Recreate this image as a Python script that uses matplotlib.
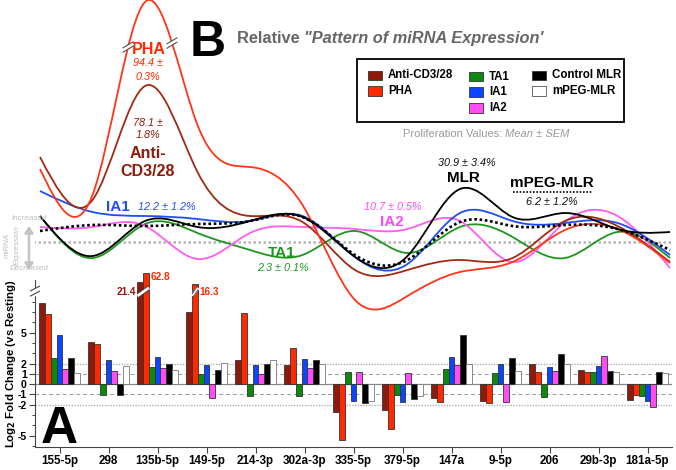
import numpy as np
import matplotlib
matplotlib.use('Agg')
import matplotlib.pyplot as plt
from matplotlib.path import Path
from matplotlib.patches import PathPatch, Rectangle, FancyArrowPatch
from matplotlib.lines import Line2D

plt.rcParams['font.family'] = ['Liberation Sans', 'DejaVu Sans']

mirnas = ['155-5p', '298', '135b-5p', '149-5p', '214-3p', '302a-3p', '335-5p',
          '379-5p', '147a', '9-5p', '206', '29b-3p', '181a-5p']
groups = ['Anti-CD3/28', 'PHA', 'TA1', 'IA1', 'IA2', 'Control MLR', 'mPEG-MLR']
colors = ['#8e1a0b', '#ff2a00', '#0b8a0b', '#0a45ff', '#ff4cf5', '#000000', '#ffffff']
curve_colors = ['#a02a14', '#ff3418', '#1e961e', '#1f4ef5', '#ff5cf0', '#000000', '#000000']

# panel A: log2 fold change vs resting
anti_cd3 = [7.9, 4.1, 21.4, 7.0, 2.35, 1.85, -2.7, -2.55, -1.3, -1.6, 1.95, 1.4, -1.55]
pha = [6.8, 3.9, 62.8, 16.3, 6.9, 3.5, -5.45, -4.4, -1.75, -1.85, 1.15, 1.15, -1.05]
ta1 = [2.5, -1.1, 1.65, 1.0, -1.2, -1.2, 1.15, -1.1, 1.5, 1.05, -1.25, 1.2, -1.15]
ia1 = [4.8, 2.3, 2.6, 1.9, 1.85, 2.45, -1.65, -1.75, 2.65, 1.95, 1.7, 1.75, -1.6]
ia2 = [1.5, 1.25, 1.6, -1.3, 0.95, 1.6, 1.15, 1.05, 1.85, -1.75, 1.25, 2.7, -2.2]
mlr = [2.5, -1.1, 2.0, 1.4, 2.0, 2.3, -1.85, -1.45, 4.8, 2.5, 2.9, 1.3, 1.15]
mpeg = [1.1, 1.8, 1.4, 2.05, 2.3, 1.95, -1.6, -1.15, 1.95, 1.25, 1.95, 1.15, 1.05]
bars = [anti_cd3, pha, ta1, ia1, ia2, mlr, mpeg]

# panel B: relative pattern (smoothed curves), arbitrary units
pat_anti = [8.5, 4.2, 15.6, 7.0, 2.6, 2.0, -2.8, -2.8, -1.8, -1.6, 2.1, 1.6, -2.0]
pat_pha = [7.3, 4.7, 24.0, 11.7, 7.5, 3.7, -5.8, -5.4, -3.0, -2.0, 1.2, 1.3, -2.1]
pat_ta1 = [2.6, -1.6, 1.8, 0.9, -0.8, -1.3, 1.1, -1.1, 1.5, 0.5, -1.6, 1.0, -1.6]
pat_ia1 = [5.1, 3.0, 2.6, 2.3, 2.1, 2.6, -1.5, -2.2, 2.9, 2.1, 1.9, 1.9, -1.3]
pat_ia2 = [1.5, 1.5, 1.6, -1.7, 0.9, 1.5, 1.3, 1.3, 2.1, -2.0, 2.0, 2.6, -2.6]
pat_mlr = [2.6, -1.4, 2.1, 1.5, 2.1, 2.5, -1.5, -1.4, 5.3, 2.5, 2.9, 1.3, 1.0]
pat_mpeg = [1.1, 1.7, 1.6, 1.8, 2.1, 2.5, -1.3, -1.8, 2.0, 1.6, 1.7, 1.3, -0.8]
patterns = [pat_anti, pat_pha, pat_ta1, pat_ia1, pat_ia2, pat_mlr, pat_mpeg]

W, H = 676, 470


def P(x, y):
    # pixel position -> figure fraction
    return x / W, 1 - y / H


def shown(v):
    # bars above the axis break are squeezed
    return 9.4 + 0.022 * v if v > 10 else v


def spline_patch(ax, xs, ys, **kw):
    # natural cubic spline through the points, drawn as bezier segments
    x = np.asarray(xs, float)
    y = np.asarray(ys, float)
    n = len(x)
    h = np.diff(x)
    A = np.zeros((n, n))
    r = np.zeros(n)
    A[0, 0] = A[-1, -1] = 1
    for i in range(1, n - 1):
        A[i, i - 1] = h[i - 1]
        A[i, i] = 2 * (h[i - 1] + h[i])
        A[i, i + 1] = h[i]
        r[i] = 6 * ((y[i + 1] - y[i]) / h[i] - (y[i] - y[i - 1]) / h[i - 1])
    m = np.linalg.solve(A, r)
    verts = [(x[0], y[0])]
    codes = [Path.MOVETO]
    for i in range(n - 1):
        s = (y[i + 1] - y[i]) / h[i]
        d0 = s - h[i] * (2 * m[i] + m[i + 1]) / 6
        d1 = s + h[i] * (m[i] + 2 * m[i + 1]) / 6
        verts += [(x[i] + h[i] / 3, y[i] + d0 * h[i] / 3),
                  (x[i + 1] - h[i] / 3, y[i + 1] - d1 * h[i] / 3),
                  (x[i + 1], y[i + 1])]
        codes += [Path.CURVE4] * 3
    ax.add_patch(PathPatch(Path(verts, codes), fill=False, clip_on=False, **kw))


fig = plt.figure(figsize=(6.76, 4.70), dpi=100)

# ---------------- panel A (bars) ----------------
ax = fig.add_axes([35 / W, 23 / H, 637 / W, 167 / H])
n = len(mirnas)
xs = np.arange(n)
w = 0.117
for j, vals in enumerate(bars):
    ec = '#777777' if colors[j] == '#ffffff' else '#333333'
    ax.bar(xs + (j - 3) * w, [shown(v) for v in vals], w, color=colors[j],
           edgecolor=ec, linewidth=0.6, clip_on=False, zorder=3)

ax.axhline(0, color='#8a8a8a', lw=0.9, zorder=1)
for yy in (1, -1):
    ax.axhline(yy, color='#9a9a9a', lw=0.7, ls=(0, (4, 3)), zorder=1)
for yy in (2, -2):
    ax.axhline(yy, color='#b0b0b0', lw=1.0, ls=(0, (1, 1)), zorder=1)

ax.set_xlim(-0.5, n - 0.5)
ax.set_ylim(-6.1, 10.1)
for s in ('top', 'right'):
    ax.spines[s].set_visible(False)
for s in ('left', 'bottom'):
    ax.spines[s].set_color('#444444')
    ax.spines[s].set_linewidth(0.8)
ax.set_xticks(xs)
ax.set_xticklabels(mirnas, fontweight='bold', fontsize=8.4)
ax.set_yticks([-5, -2, -1, 0, 1, 2, 5])
ax.set_yticklabels(['-5', '-2', '-1', '0', '1', '2', '5'], fontweight='bold', fontsize=7.6)
ax.set_yticks([-6, -4, -3, 3, 4, 6, 7, 8], minor=True)
ax.tick_params(axis='both', length=4, width=0.8, color='#444444', pad=2)
ax.tick_params(axis='y', which='minor', length=2.5, width=0.7, color='#444444')
ax.set_ylabel(r'Log$_\mathbf{2}$ Fold Change (vs Resting)', fontweight='bold', fontsize=8.2)
ax.yaxis.set_label_coords(-0.026, 0.5)

# break on the y axis
yt = ax.get_yaxis_transform()
ax.plot([0, 0], [8.75, 9.25], color='white', lw=2.5, transform=yt, clip_on=False, zorder=5)
for y0 in (8.55, 9.05):
    ax.plot([-0.007, 0.007], [y0, y0 + 0.45], color='#444444', lw=0.8,
            transform=yt, clip_on=False, zorder=6)

# breaks on the tall bars and their real values
big = [(0, 2, 'right', 8.95), (1, 2, 'left', 10.35), (1, 3, 'left', 8.95)]
for j, i, ha, ty in big:
    xb = i + (j - 3) * w
    tx = xb - w / 2 - 0.03 if ha == 'right' else xb + w / 2 + 0.03
    ax.text(tx, ty, f'{bars[j][i]:.1f}', color=colors[j],
            fontsize=7.2, fontweight='bold', ha=ha, va='center', zorder=7)
for x0, x1 in [(2 - 3 * w - w / 2, 2 - 2 * w + w / 2), (3 - 2 * w - w / 2, 3 - 2 * w + w / 2)]:
    ax.plot([x0, x1], [8.55, 9.35], color='white', lw=2.6, zorder=5, clip_on=False,
            solid_capstyle='butt')
    for off in (-0.22, 0.22):
        ax.plot([x0, x1], [8.55 + off, 9.35 + off], color='#333333', lw=0.6, zorder=6,
                clip_on=False)

fig.text(*P(41, 443), 'A', fontsize=37, fontweight='bold', va='baseline', ha='left')

# ---------------- panel B (pattern curves) ----------------
axt = fig.add_axes([35 / W, 1 - 320 / H, 637 / W, 320 / H])
axt.set_xlim((35 - 40) / 52.5, (672 - 40) / 52.5)
axt.set_ylim(-7.8, 24.2)
axt.axis('off')
axt.patch.set_alpha(0)
axt.axhline(0, xmin=-0.003, color='#b5b5b5', lw=1.8, ls=(0, (1, 1)), zorder=1)

order = [2, 4, 3, 0, 1, 5]
for j in order:
    spline_patch(axt, xs, patterns[j], edgecolor=curve_colors[j], lw=1.3, zorder=3)
spline_patch(axt, xs, patterns[6], edgecolor='#000000', lw=1.9,
             linestyle=(0, (1, 1)), zorder=4)

# break marks on the PHA curve
for cx, cy in [(128, 47), (172, 43)]:
    for d in (-2.2, 2.2):
        fig.add_artist(Line2D([(cx - 5) / W, (cx + 5) / W],
                              [1 - (cy + 3 + d) / H, 1 - (cy - 3 + d) / H],
                              color='#555555', lw=0.8, zorder=6))
    fig.add_artist(Line2D([(cx - 4) / W, (cx + 4) / W],
                          [1 - (cy + 2.4) / H, 1 - (cy - 2.4) / H],
                          color='white', lw=2.2, zorder=5))

fig.text(*P(190, 56.5), 'B', fontsize=36, fontweight='bold', va='baseline', ha='left')
t1 = fig.text(*P(237, 43), 'Relative ', fontsize=11.8, fontweight='bold', color='#666666',
              va='baseline', ha='left')
axt.annotate('"Pattern of miRNA Expression\'', xy=(1, 0), xycoords=t1, va='bottom', ha='left',
             fontsize=11.8, fontweight='bold', style='italic', color='#666666',
             annotation_clip=False)

# legend box
fig.add_artist(Rectangle(P(357, 122), 267 / W, 63 / H, transform=fig.transFigure,
                         fill=False, edgecolor='black', lw=1.3))
leg_pos = [(368, 75.5), (368, 91), (469, 76.5), (469, 92), (469, 108), (532, 75.5), (532, 91)]
for j, (lx, ly) in enumerate(leg_pos):
    ec = '#555555' if colors[j] == '#ffffff' else '#333333'
    fig.add_artist(Rectangle(P(lx, ly + 4.7), 13.5 / W, 9.4 / H, transform=fig.transFigure,
                             facecolor=colors[j], edgecolor=ec, lw=0.6))
    fig.text(*P(lx + 20, ly), groups[j], fontsize=8.3, fontweight='bold',
             va='center', ha='left')

t2 = fig.text(*P(403, 134), 'Proliferation Values: ', fontsize=8, color='#9a9a9a',
              va='center', ha='left')
axt.annotate('Mean \u00b1 SEM', xy=(1, 0), xycoords=t2, va='bottom', ha='left',
             fontsize=8, style='italic', color='#9a9a9a', annotation_clip=False)

# series labels on the curves
lab = dict(ha='center', va='center')
fig.text(*P(149, 50), 'PHA', fontsize=11.5, fontweight='bold', color='#ff2a00', **lab)
fig.text(*P(148, 63.5), '94.4 \u00b1', fontsize=7.8, style='italic', color='#ff2a00', **lab)
fig.text(*P(148, 77), '0.3%', fontsize=7.8, style='italic', color='#ff2a00', **lab)
fig.text(*P(148, 123.5), '78.1 \u00b1', fontsize=7.8, style='italic', color='#8e1a0b', **lab)
fig.text(*P(148, 135.5), '1.8%', fontsize=7.8, style='italic', color='#8e1a0b', **lab)
fig.text(*P(148, 154), 'Anti-', fontsize=11.5, fontweight='bold', color='#8e1a0b', **lab)
fig.text(*P(148, 172), 'CD3/28', fontsize=11.5, fontweight='bold', color='#8e1a0b', **lab)
fig.text(*P(118, 207), 'IA1', fontsize=11, fontweight='bold', color='#1f4ef5', **lab)
fig.text(*P(138, 207), '12.2 \u00b1 1.2%', fontsize=7.8, style='italic', color='#1f4ef5',
         ha='left', va='center')
fig.text(*P(282, 253), 'TA1', fontsize=11, fontweight='bold', color='#1e961e', **lab)
fig.text(*P(283, 268), '2.3 \u00b1 0.1%', fontsize=7.8, style='italic', color='#1e961e', **lab)
fig.text(*P(392, 222), 'IA2', fontsize=11, fontweight='bold', color='#ff4cf5', **lab)
fig.text(*P(393, 207), '10.7 \u00b1 0.5%', fontsize=7.8, style='italic', color='#ff4cf5', **lab)
fig.text(*P(467, 163), '30.9 \u00b1 3.4%', fontsize=7.8, style='italic', color='#111111', **lab)
fig.text(*P(463, 178), 'MLR', fontsize=11, fontweight='bold', color='black', **lab)
fig.text(*P(552, 183), 'mPEG-MLR', fontsize=11, fontweight='bold', color='black', **lab)
fig.add_artist(Line2D([513 / W, 592 / W], [1 - 192 / H] * 2, color='black', lw=1.2,
                      ls=(0, (1, 1))))
fig.text(*P(552, 202), '6.2 \u00b1 1.2%', fontsize=7.8, style='italic', color='#111111', **lab)

# increased / decreased guide
g = dict(fontsize=5.8, style='italic', color='#bdbdbd')
fig.text(*P(12, 219), 'Increased', ha='left', va='center', **g)
fig.text(*P(10, 268), 'Decreased', ha='left', va='center', **g)
fig.text(*P(7, 245), 'miRNA', rotation=90, ha='center', va='center', **g)
fig.text(*P(17, 245), 'Expression', rotation=90, ha='center', va='center', **g)
fig.add_artist(FancyArrowPatch(P(29, 223), P(29, 273), transform=fig.transFigure,
                               arrowstyle='<|-|>,head_length=4,head_width=2.5',
                               color='#c4c4c4', lw=1.8, mutation_scale=1))

fig.savefig('out.png', dpi=100)
